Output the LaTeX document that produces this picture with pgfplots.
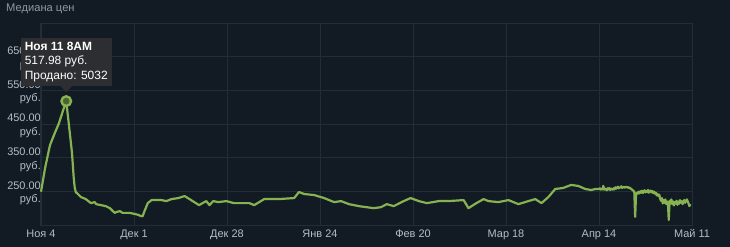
\documentclass[border=0pt]{standalone}
\usepackage{fontspec}
\setmainfont{Liberation Sans}
\usepackage{pgfplots}
\pgfplotsset{compat=1.18}
\definecolor{bg}{HTML}{121A23}
\definecolor{gridc}{HTML}{222D3A}
\definecolor{linec}{HTML}{86B252}
\definecolor{markfill}{HTML}{4A6330}
\definecolor{tickc}{HTML}{B4BCC4}
\definecolor{titlec}{HTML}{8F98A0}
\definecolor{tipc}{HTML}{2C2E31}
\begin{document}
\begin{tikzpicture}
\fill[bg] (0bp,0bp) rectangle (730bp,247bp);
\node[anchor=west, text=titlec, font=\fontsize{11.2}{13}\selectfont, inner sep=0] at (6bp,238bp) {Медиана цен};
\begin{axis}[
  at={(41bp,22bp)}, anchor=south west, scale only axis,
  width=651bp, height=202bp,
  xmin=0, xmax=189, ymin=150, ymax=750,
  axis line style={gridc, line width=1bp},
  grid=major, major grid style={gridc, line width=0.8bp},
  tick style={draw=none},
  xtick={0,27,54,81,108,135,162,189},
  xticklabels={Ноя 4, Дек 1, Дек 28, Янв 24, Фев 20, Мар 18, Апр 14, Май 11},
  ytick={250,350,450,550,650},
  yticklabels={{250.00\\руб.},{350.00\\руб.},{450.00\\руб.},{550.00\\руб.},{650.00\\руб.}},
  xticklabel style={text=tickc, font=\fontsize{11}{13}\selectfont, yshift=-1bp},
  yticklabel style={text=tickc, font=\fontsize{11}{14}\selectfont, align=right, inner sep=0pt, xshift=0bp, yshift=-2bp},
  clip=false,
]
\addplot[linec, line width=2.2bp, line join=round] table {
x y
0 249
1.2 320
2.6 387
4.0 423
5.2 452
6.4 490
7.33 518
8.4 420
9.0 364
9.5 290
9.8 260
10.1 248
11.6 233
13.0 227
14.5 215
15.6 218
16.0 212
17.4 209
18.8 206
20.0 200
20.3 197
21.4 186
22.0 189
22.9 191
23.7 186
24.4 186
25.7 186
27.1 183
28.3 180
28.9 177
29.5 176
30.0 190
31.0 215
32.1 224
35.0 224
36.4 221
37.9 227
39.9 230
41.7 236
43.1 227
44.5 218
45.9 209
46.9 215
48.0 221
48.9 209
50.0 221
51.5 218
53.8 221
56.0 215
57.6 215
60.5 215
61.9 209
64.8 227
69.1 227
73.5 230
74.9 248
76.4 242
79.3 239
82.2 230
85.1 218
87.1 221
89.4 212
92.3 206
96.6 200
98.7 203
100.4 212
102.4 206
105.3 221
107.3 230
109.7 221
112.0 215
115.5 221
118.3 221
122.7 224
124.1 200
126.4 215
128.5 227
129.9 221
132.8 218
135.7 224
138.6 212
141.5 221
143.5 227
145.3 215
147.3 233
149.3 257
151.6 260
153.9 269
156.0 266
158.0 257
159.7 254
161.0 257
162.00 257
162.25 259
162.5 255
162.75 258
163 256
163.25 266
163.5 255
163.75 258
164 257
164.25 253
164.5 259
164.75 256
165 260
165.25 254
165.5 258
165.75 257
166 255
166.25 259
166.5 256
166.75 262
167 258
167.25 260
167.5 264
167.75 259
168 262
168.25 261
168.5 265
168.75 260
169 263
169.25 262
169.5 261
169.75 264
170 262
170.25 263
170.5 260
170.75 262
171 259
171.25 258
171.5 256
171.75 253
172 252
172.25 248
172.5 174
172.75 240
173 246
173.25 243
173.5 249
173.75 244
174 250
174.25 246
174.5 252
174.75 245
175 249
175.25 253
175.5 247
175.75 251
176 248
176.25 254
176.5 246
176.75 250
177 252
177.25 247
177.5 251
177.75 245
178 249
178.25 243
178.5 246
178.75 238
179 242
179.25 236
179.5 240
179.75 228
180 222
180.25 230
180.5 214
180.75 224
181 216
181.25 226
181.5 212
181.75 220
182 215
182.25 165
182.5 222
182.75 214
183 226
183.25 212
183.5 220
183.75 208
184 218
184.25 214
184.5 222
184.75 210
185 219
185.25 213
185.5 224
185.75 216
186 221
186.25 212
186.5 218
186.75 224
187 216
187.25 222
187.5 226
187.75 220
188 214
188.25 206
188.5 212
};
\addplot[only marks, mark=*, mark size=4.8bp, mark options={draw=linec, fill=markfill, line width=2.4bp}] coordinates {(7.33,517.98)};
\node[anchor=south, yshift=15bp, fill=tipc, text=white, align=left, inner sep=4bp, font=\fontsize{12}{14.5}\selectfont] (tip) at (axis cs:7.33,517.98) {\textbf{Ноя 11 8AM}\\517.98 руб.\\Продано: 5032};
\fill[tipc] ([xshift=-6bp]tip.south) -- ([xshift=6bp]tip.south) -- ([yshift=-6bp]tip.south) -- cycle;
\end{axis}
\end{tikzpicture}
\end{document}
